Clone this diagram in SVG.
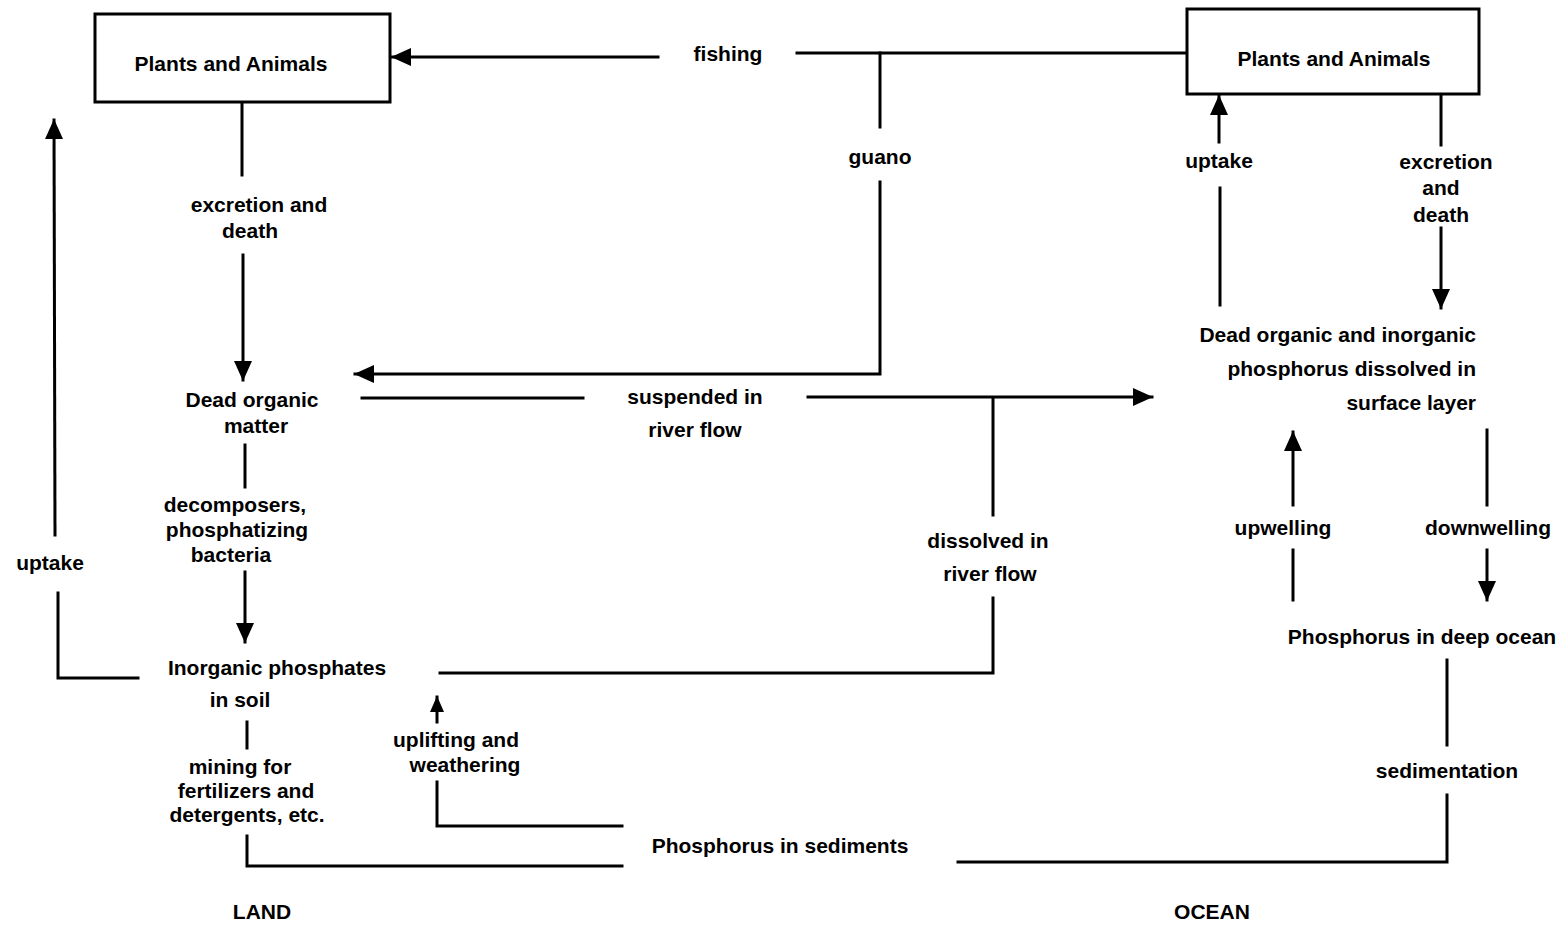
<svg xmlns="http://www.w3.org/2000/svg" width="1568" height="927" viewBox="0 0 1568 927">
  <style>
    text { font-family: "Liberation Sans", Arial, sans-serif; font-weight: bold; font-size: 21px; fill: #000; text-anchor: middle; }
    .box { fill: #fff; stroke: #000; stroke-width: 3; }
    .flow { fill: none; stroke: #000; stroke-width: 3; stroke-linecap: square; stroke-linejoin: miter; }
    .arr { marker-end: url(#head); }
    .arrs { marker-end: url(#headSm); }
  </style>
  <defs>
    <marker id="head" viewBox="0 0 20 18" refX="19" refY="9" markerWidth="20" markerHeight="18" markerUnits="userSpaceOnUse" orient="auto">
      <path d="M0,0 L20,9 L0,18 Z" fill="#000"/>
    </marker>
    <marker id="headSm" viewBox="0 0 16 14" refX="15" refY="7" markerWidth="16" markerHeight="14" markerUnits="userSpaceOnUse" orient="auto">
      <path d="M0,0 L16,7 L0,14 Z" fill="#000"/>
    </marker>
  </defs>
  <rect width="1568" height="927" fill="#fff"/>

  <!-- connectors -->
  <g id="connectors">
    <!-- fishing: ocean biota to land biota -->
    <path class="flow arr" d="M658,57 L392,57"/>
    <path class="flow" d="M797,53 L1187,53"/>
    <!-- guano -->
    <path class="flow" d="M880,53 L880,127"/>
    <path class="flow arr" d="M880,182 L880,374 L355,374"/>
    <!-- land: excretion and death -->
    <path class="flow" d="M242,102 L242,175"/>
    <path class="flow arr" d="M243,255 L243,380"/>
    <!-- decomposers -->
    <path class="flow" d="M245,445 L245,487"/>
    <path class="flow arr" d="M245,572 L245,642"/>
    <!-- land uptake -->
    <path class="flow" d="M138,678 L58,678 L58,593"/>
    <path class="flow arr" d="M55,535 L54,120"/>
    <!-- suspended in river flow -->
    <path class="flow" d="M362,398 L583,398"/>
    <path class="flow arr" d="M808,397 L1152,397"/>
    <!-- dissolved in river flow -->
    <path class="flow" d="M993,398 L993,515"/>
    <path class="flow" d="M993,598 L993,673 L440,673"/>
    <!-- mining -->
    <path class="flow" d="M247,722 L247,748"/>
    <path class="flow" d="M247,836 L247,866 L622,866"/>
    <!-- uplifting and weathering -->
    <path class="flow" d="M622,826 L437,826 L437,782"/>
    <path class="flow arrs" d="M437,722 L437,697"/>
    <!-- ocean uptake -->
    <path class="flow" d="M1220,305 L1220,188"/>
    <path class="flow arr" d="M1219,142 L1219,96"/>
    <!-- ocean excretion and death -->
    <path class="flow" d="M1441,94 L1441,145"/>
    <path class="flow arr" d="M1441,228 L1441,308"/>
    <!-- upwelling -->
    <path class="flow" d="M1293,600 L1293,550"/>
    <path class="flow arr" d="M1293,505 L1293,432"/>
    <!-- downwelling -->
    <path class="flow" d="M1487,430 L1487,505"/>
    <path class="flow arr" d="M1487,550 L1487,600"/>
    <!-- sedimentation -->
    <path class="flow" d="M1447,660 L1447,745"/>
    <path class="flow" d="M1447,795 L1447,862 L958,862"/>
  </g>

  <!-- stores -->
  <g id="land-biota">
    <rect class="box" x="95" y="14" width="295" height="88"/>
    <text x="231" y="71">Plants and Animals</text>
  </g>
  <g id="ocean-biota">
    <rect class="box" x="1187" y="9" width="292" height="85"/>
    <text x="1334" y="66">Plants and Animals</text>
  </g>
  <g id="land-dead-organic">
    <text x="252" y="407">Dead organic</text>
    <text x="256" y="433">matter</text>
  </g>
  <g id="soil-phosphates">
    <text x="277" y="675">Inorganic phosphates</text>
    <text x="240" y="707">in soil</text>
  </g>
  <g id="sediments">
    <text x="780" y="853">Phosphorus in sediments</text>
  </g>
  <g id="surface-layer">
    <text x="1476" y="342" style="text-anchor:end">Dead organic and inorganic</text>
    <text x="1476" y="376" style="text-anchor:end">phosphorus dissolved in</text>
    <text x="1476" y="410" style="text-anchor:end">surface layer</text>
  </g>
  <g id="deep-ocean">
    <text x="1422" y="644">Phosphorus in deep ocean</text>
  </g>

  <!-- process labels -->
  <g id="labels">
    <text x="728" y="61">fishing</text>
    <text x="880" y="164">guano</text>
    <text x="259" y="212">excretion and</text>
    <text x="250" y="238">death</text>
    <text x="235" y="512">decomposers,</text>
    <text x="237" y="537">phosphatizing</text>
    <text x="231" y="562">bacteria</text>
    <text x="50" y="570">uptake</text>
    <text x="695" y="404">suspended in</text>
    <text x="695" y="437">river flow</text>
    <text x="988" y="548">dissolved in</text>
    <text x="990" y="581">river flow</text>
    <text x="456" y="747">uplifting and</text>
    <text x="465" y="772">weathering</text>
    <text x="240" y="774">mining for</text>
    <text x="246" y="798">fertilizers and</text>
    <text x="247" y="822">detergents, etc.</text>
    <text x="1219" y="168">uptake</text>
    <text x="1446" y="169">excretion</text>
    <text x="1441" y="195">and</text>
    <text x="1441" y="222">death</text>
    <text x="1283" y="535">upwelling</text>
    <text x="1488" y="535">downwelling</text>
    <text x="1447" y="778">sedimentation</text>
  </g>

  <!-- region titles -->
  <g id="titles">
    <text x="262" y="919">LAND</text>
    <text x="1212" y="919">OCEAN</text>
  </g>
</svg>
